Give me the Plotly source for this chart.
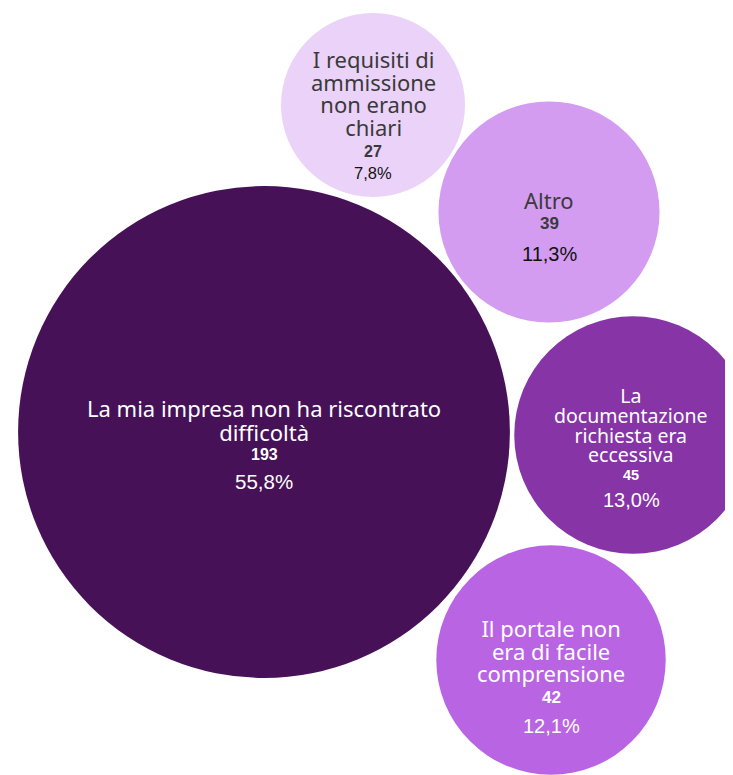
import plotly.graph_objects as go
import math

# ---- data ----
categories = [
    "La mia impresa non ha riscontrato<br>difficoltà",
    "I requisiti di<br>ammissione<br>non erano<br>chiari",
    "Altro",
    "La<br>documentazione<br>richiesta era<br>eccessiva",
    "Il portale non<br>era di facile<br>comprensione",
]
counts = [193, 27, 39, 45, 42]
colors = ["#461157", "#EBD2F8", "#D39CF0", "#8634A6", "#B964E2"]
text_colors = ["#FFFFFF", "#3A3A3A", "#3A3A3A", "#FFFFFF", "#FFFFFF"]
pct_colors = ["#FFFFFF", "#111111", "#111111", "#FFFFFF", "#FFFFFF"]

# ---- layout (packed-bubble positions, px) ----
cx = [264, 373, 549, 633, 551]
tx = [264, 373, 549, 631, 551]
cy = [432, 105, 212, 435, 660]
k = 17.7  # px radius per sqrt(count)
label_y0 = [408, 59, 200, 395, 628]
label_gap = [24, 22.7, 22.7, 19.8, 22.7]
num_y = [454, 151, 223, 475, 697]
pct_y = [481, 173, 254, 500, 726]
label_size = [22, 22, 22, 19.5, 22]
num_size = [16, 16, 17, 14.5, 17]
pct_size = [20.5, 16.5, 20, 20, 20]

W, H = 733, 775
OFF = 8  # page body margin
total = sum(counts)

fig = go.Figure()
fig.add_trace(go.Scatter(
    x=cx, y=cy, mode="markers",
    marker=dict(size=[2 * k * math.sqrt(v) for v in counts], sizemode="diameter",
                color=colors, opacity=1, line=dict(width=0)),
    hoverinfo="skip", showlegend=False,
))

ann = []
for i, lab in enumerate(categories):
    lines = lab.split("<br>")
    n = len(lines)
    base = label_gap[i] / 1.3
    txt = "<br>".join('<span style="font-size:%spx">%s</span>' % (label_size[i], ln) for ln in lines)
    ann.append(dict(x=tx[i], y=label_y0[i] + (n - 1) * label_gap[i] / 2, text=txt,
                    showarrow=False, xanchor="center", yanchor="middle", align="center",
                    font=dict(family="Noto Sans", size=base, color=text_colors[i])))
    ann.append(dict(x=tx[i], y=num_y[i], text="<b>%d</b>" % counts[i],
                    showarrow=False, xanchor="center", yanchor="middle",
                    font=dict(family="Liberation Sans", size=num_size[i], color=text_colors[i])))
    pct = ("%.1f%%" % (100 * counts[i] / total)).replace(".", ",")
    ann.append(dict(x=tx[i], y=pct_y[i], text=pct,
                    showarrow=False, xanchor="center", yanchor="middle",
                    font=dict(family="Liberation Sans", size=pct_size[i], color=pct_colors[i])))

fig.update_layout(
    width=W - OFF, height=H - OFF, margin=dict(l=0, r=0, t=0, b=0),
    paper_bgcolor="white", plot_bgcolor="white",
    xaxis=dict(range=[OFF, W], visible=False, fixedrange=True),
    yaxis=dict(range=[H, OFF], visible=False, fixedrange=True),
    annotations=ann,
)
fig.write_html("out.html", config={"displayModeBar": False})
